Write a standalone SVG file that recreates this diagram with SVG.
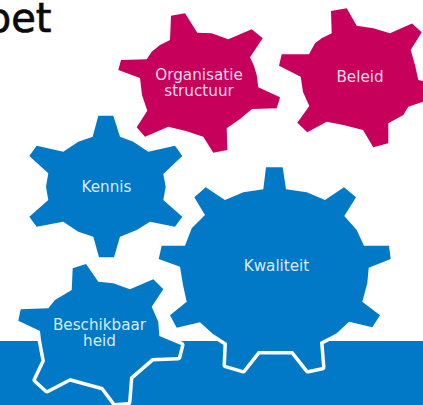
<svg xmlns="http://www.w3.org/2000/svg" width="423" height="405" viewBox="0 0 423 405">
<style>
.b{fill:#0279c6}
.p{fill:#c7005c}
.o{stroke:#fff;stroke-width:7;stroke-linejoin:round;paint-order:stroke}
text{font-family:"DejaVu Sans",Verdana,sans-serif;font-size:15.2px;text-anchor:middle}
.lb{fill:#dbeaf5}
.lp{fill:#f7dbe8}
</style>
<rect width="423" height="405" fill="#fff"/>
<text x="51.5" y="32" style="font-size:40px;text-anchor:end" fill="#0a0a0a" stroke="#0a0a0a" stroke-width="0.7">bet</text>
<rect id="band" x="0" y="341" width="423" height="64" class="b"/>
<g id="organisatie">
<polygon class="p" points="171,15.7 185,13.3 197.3,32.7 211.7,33.3 228.3,39.3 251.7,29.3 262.7,38.3 250,57.3 254,66 256.7,75 258.3,87.3 280,97.3 276.7,108.3 252,109 240,119 226.7,128.3 227.3,150 213.3,152.7 203.3,136.7 186,131 168.3,126.7 145,136.7 136.7,127.3 147.3,110.7 142,95 140,78 118.3,70 121,60 146.7,59.3 151.7,51.7 160,45 170,40"/>
<text class="lp"><tspan x="199" y="80">Organisatie</tspan><tspan x="199" y="96">structuur</tspan></text>
</g>
<g id="beleid">
<polygon class="p" points="331,11 346.7,8.3 356.7,25.7 373.3,28.3 390,33.3 412,23.5 421.7,32.3 410.7,50 415,65 418.3,80 423,81 423,101.7 408.3,106.7 403.3,115 388.3,123.3 388.3,143.3 373.3,147.3 363,130 343.3,125 326.7,121.7 307.3,132.3 297.3,122.7 309.3,106 303,92 300.7,76.7 279,65.7 281.7,54.3 309,54.3 315,43.3 322,38 331.7,33.3"/>
<text class="lp" x="360" y="82">Beleid</text>
</g>
<g id="kennis">
<polygon class="b" points="98.3,115.7 113.3,115.7 120,136.7 133.3,141.7 148.3,151.7 175,145.7 182.3,156 163.3,174 165.7,186.7 163.3,200 182.3,216.7 175,226.7 150,221.7 136.7,230 120,236.7 114,257.3 99,257.3 93.3,236.7 78.3,231.7 63.3,221.7 36.7,226.7 29.3,216.7 48.3,200 46,186.7 48.3,173.3 29.3,156 36.7,145.7 63.3,151.7 78.3,141.7 92.7,136.7"/>
<text class="lb" x="106.5" y="192">Kennis</text>
</g>
<g id="kwaliteit">
<polygon class="b o" points="266,167.3 282.7,167.3 286,189.3 306.7,192.3 325,200 344,187.3 356,197.3 344.3,216 356.7,230 364,245.7 389,245.7 390.7,259 368.7,267.7 367.3,283.3 362.3,301.7 380,315.3 372.3,327.3 349,321.7 336.7,333.3 320,342 322,367 308,370 293,351 258,351 243,370 226,365 227,343 213,334 200,322.3 176.7,327.7 170,315.3 186.7,301.7 183,285 180,266.7 158.7,259 161.7,245.7 185,245.7 191.7,228.3 205,215 194.3,197.3 205.7,187.3 225,200 243.3,192.3 263.3,189.3"/>
<text class="lb" x="276.5" y="271">Kwaliteit</text>
</g>
<g id="beschikbaarheid">
<polygon class="b o" points="72.7,268.3 86,264 98.3,281.7 113.3,283.3 130,289.3 153.3,279.3 163.3,289.3 151.7,306.7 158.3,321.7 159.3,336 181,345 178,357 152,358 130,377 128,402 115,403 103,387 70,378 47,390 36,380 45,361 41,340 40,331 18.3,320.7 20.7,309.3 48.3,308.3 55,300 71.7,290"/>
<text class="lb"><tspan x="99.5" y="330">Beschikbaar</tspan><tspan x="99.5" y="346">heid</tspan></text>
</g>
<g id="connectors"/>
</svg>
